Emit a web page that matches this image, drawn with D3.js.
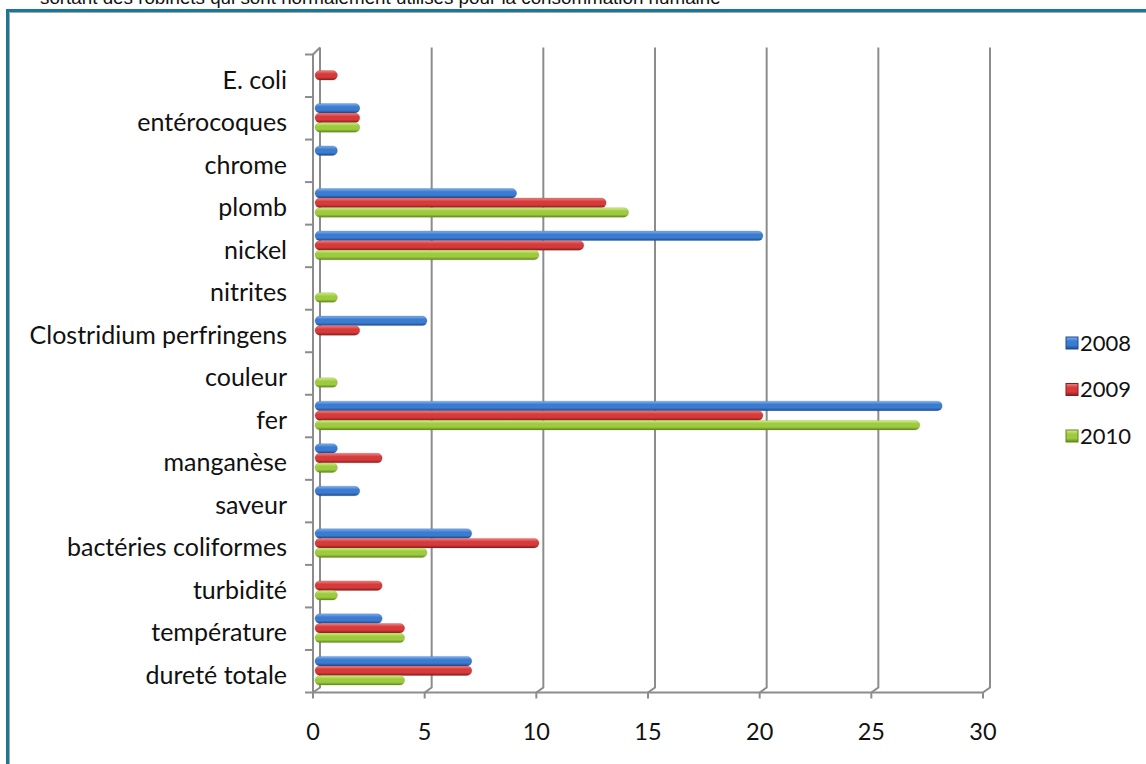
<!DOCTYPE html>
<html>
<head>
<meta charset="utf-8">
<script src="https://cdn.jsdelivr.net/npm/d3@7"></script>
<style>
  html, body { margin: 0; padding: 0; background: #fff; }
  svg { display: block; }
</style>
</head>
<body>
<svg id="chart" width="1146" height="764"></svg>
<script>
// Paramètres non conformes, nombre de cas par année
const categories = ["E. coli", "entérocoques", "chrome", "plomb", "nickel", "nitrites",
  "Clostridium perfringens", "couleur", "fer", "manganèse", "saveur",
  "bactéries coliformes", "turbidité", "température", "dureté totale"];
const years = ["2008", "2009", "2010"];
const values2008 = [0, 2, 1, 9, 20, 0, 5, 0, 28, 1, 2, 7, 0, 3, 7];
const values2009 = [1, 2, 0, 13, 12, 0, 2, 0, 20, 3, 0, 10, 3, 4, 7];
const values2010 = [0, 2, 0, 14, 10, 1, 0, 1, 27, 1, 0, 5, 1, 4, 4];
const xTicks = [0, 5, 10, 15, 20, 25, 30];
const caption = "sortant des robinets qui sont normalement utilisés pour la consommation humaine";

const series = [values2008, values2009, values2010];
const palette = [
  { top: "#7fb0ee", mid: "#3b7bd0", bot: "#1d4c8e" },
  { top: "#f08482", mid: "#d63a3a", bot: "#8a1c1c" },
  { top: "#d2ee88", mid: "#9dca3e", bot: "#62861c" }
];
const labelFont = "Lato, sans-serif";

const svg = d3.select("#chart");
const defs = svg.append("defs");
palette.forEach((c, i) => {
  const g = defs.append("linearGradient").attr("id", "bar" + i)
    .attr("x1", 0).attr("y1", 0).attr("x2", 0).attr("y2", 1);
  g.append("stop").attr("offset", "0%").attr("stop-color", c.top);
  g.append("stop").attr("offset", "35%").attr("stop-color", c.mid);
  g.append("stop").attr("offset", "70%").attr("stop-color", c.mid);
  g.append("stop").attr("offset", "100%").attr("stop-color", c.bot);
});

// caption line, its upper part runs off the top edge
svg.append("text").attr("x", 40).attr("y", 4)
  .attr("font-family", "Liberation Sans, Arial, sans-serif")
  .attr("font-size", 18.8).attr("fill", "#111").text(caption);

// frame
svg.append("rect").attr("x", 7.5).attr("y", 10.5).attr("width", 1200).attr("height", 800)
  .attr("fill", "none").attr("stroke", "#1a7896").attr("stroke-width", 3);
svg.append("path").attr("d", "M9.5,900 V12.5 H1200").attr("fill", "none")
  .attr("stroke", "#a8a8a8").attr("stroke-width", 1);

// scales: front edge of the floor, back wall, bars between them
const xFront = d3.scaleLinear().domain([0, 30]).range([313, 983]);
const xBack = d3.scaleLinear().domain([0, 30]).range([320, 990]);
const xBar = d3.scaleLinear().domain([0, 30]).range([315, 987]);
const yBand = d3.scaleBand().domain(categories).range([54.5, 692.5]);
const wallTop = 47.5, wallBottom = 687.5, floorY = 692.5;
const grid = "#8c8c8c";

// back wall gridlines with their floor segment
const gl = svg.append("g").attr("fill", "none").attr("stroke", grid).attr("stroke-width", 2);
xTicks.forEach(t => {
  gl.append("path").attr("d",
    `M${xBack(t)},${wallTop} V${wallBottom} L${xFront(t)},${floorY}`);
});
// front floor edge
gl.append("path").attr("d", `M${xFront(0)},${floorY} H${xFront(30)}`);
// left axis front edge with top bevel
gl.append("path").attr("d",
  `M${xFront(0)},${floorY} V${yBand.range()[0]} L${xBack(0)},${wallTop}`);
// category ticks
const catEdges = categories.map(c => yBand(c)).concat([yBand.range()[1]]);
catEdges.forEach(y => {
  gl.append("path").attr("d", `M${xFront(0) - 8},${y} H${xFront(0)}`);
});
// value ticks on the floor edge
xTicks.forEach(t => {
  gl.append("path").attr("d", `M${xFront(t)},${floorY} V${floorY + 6}`);
});

// bars
const barH = 9.5, barStep = 9.6;
const bars = svg.append("g");
series.forEach((vals, s) => {
  bars.selectAll(null).data(vals.map((v, i) => ({ v, c: categories[i] })).filter(d => d.v > 0))
    .enter().append("rect")
    .attr("x", xBar(0))
    .attr("y", d => yBand(d.c) + yBand.bandwidth() / 2 + (s - 1) * barStep - barH / 2 - 0.5)
    .attr("width", d => xBar(d.v) - xBar(0))
    .attr("height", barH)
    .attr("rx", 4.75).attr("ry", 4.75)
    .attr("fill", `url(#bar${s})`)
    .attr("stroke", palette[s].bot).attr("stroke-opacity", 0.4).attr("stroke-width", 0.6);
});

// category labels
svg.append("g").selectAll("text").data(categories).enter().append("text")
  .attr("x", 287)
  .attr("y", d => yBand(d) + yBand.bandwidth() / 2 + 4)
  .attr("dy", "0.35em")
  .attr("text-anchor", "end")
  .attr("font-family", labelFont).attr("font-size", 25).attr("fill", "#111")
  .text(d => d);

// value tick labels
svg.append("g").selectAll("text").data(xTicks).enter().append("text")
  .attr("x", d => xFront(d)).attr("y", 732).attr("dy", "0.35em")
  .attr("text-anchor", "middle")
  .attr("font-family", labelFont).attr("font-size", 23.5).attr("fill", "#111")
  .text(d => d);

// legend
const legend = svg.append("g");
const legY = d3.scalePoint().domain(years).range([343, 436]);
years.forEach((yr, i) => {
  const y = legY(yr);
  legend.append("rect").attr("x", 1066).attr("y", y - 6).attr("width", 12).attr("height", 12)
    .attr("fill", `url(#bar${i})`).attr("stroke", palette[i].bot).attr("stroke-width", 1);
  legend.append("text").attr("x", 1080).attr("y", y).attr("dy", "0.35em")
    .attr("font-family", labelFont).attr("font-size", 22).attr("fill", "#111")
    .text(yr);
});
</script>
</body>
</html>
